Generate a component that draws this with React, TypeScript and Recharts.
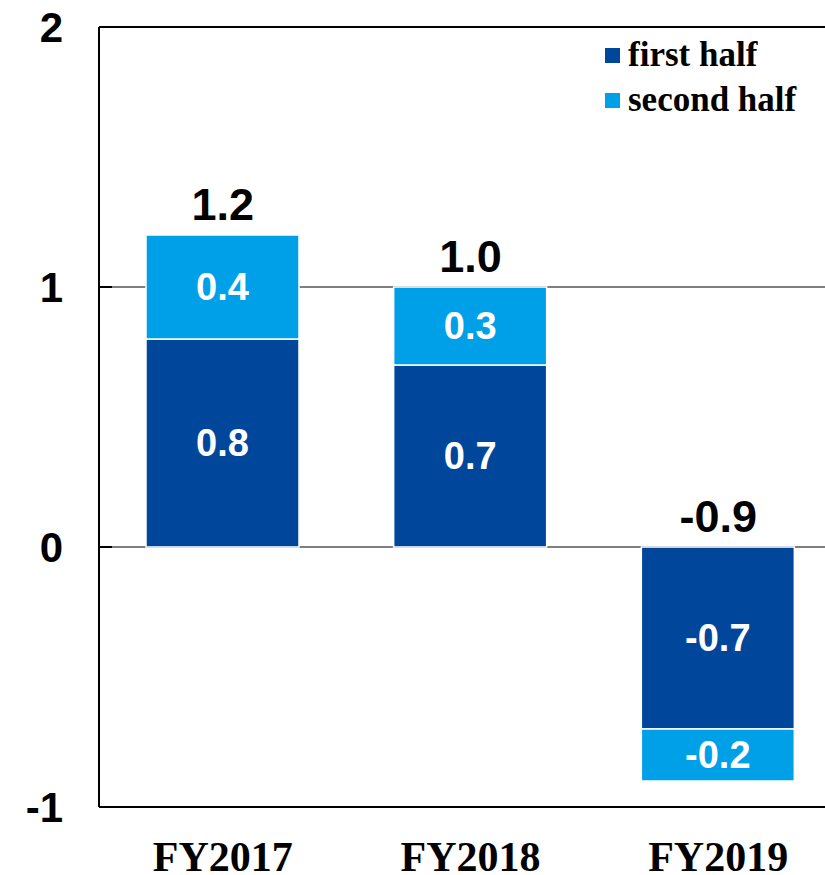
import React from 'react';
import {
  ComposedChart,
  Bar,
  Line,
  XAxis,
  YAxis,
  CartesianGrid,
  ReferenceLine,
  LabelList,
  Legend,
} from 'recharts';

const categories = ['FY2017', 'FY2018', 'FY2019'];
const firstHalf = [0.8, 0.7, -0.7];
const secondHalf = [0.4, 0.3, -0.2];
const totals = [1.2, 1.0, -0.9];
const yTicks = [-1, 0, 1, 2];
const seriesNames = ['first half', 'second half'];

const DARK = '#00479B';
const LIGHT = '#00A0E8';
const SANS = '"Liberation Sans", Arial, sans-serif';
const SERIF = '"Liberation Serif", "Times New Roman", serif';

const data = categories.map((c, i) => ({
  name: c,
  first: firstHalf[i],
  second: secondHalf[i],
  total: totals[i],
  anchor: Math.max(totals[i], 0),
}));

const fmt = (v: any) => Number(v).toFixed(1);

const YTick = (props: any) => {
  const { x, y, payload } = props;
  return (
    <g>
      <line x1={x} x2={x + 13} y1={y} y2={y} stroke="#000" strokeWidth={2} />
      <text
        x={x - 36}
        y={y}
        textAnchor="end"
        dominantBaseline="central"
        fontFamily={SANS}
        fontWeight="bold"
        fontSize={42}
        fill="#000"
      >
        {payload.value}
      </text>
    </g>
  );
};

const XTick = (props: any) => {
  const { x, y, payload } = props;
  return (
    <text
      x={x}
      y={y + 64}
      textAnchor="middle"
      fontFamily={SERIF}
      fontWeight="bold"
      fontSize={42}
      fill="#000"
    >
      {payload.value}
    </text>
  );
};

const LegendContent = () => {
  const colors = [DARK, LIGHT];
  return (
    <div style={{ position: 'relative' }}>
      {seriesNames.map((n, i) => (
        <div key={n} style={{ position: 'relative', height: 45, width: 220 }}>
          <div
            style={{
              position: 'absolute',
              left: 0,
              top: 16,
              width: 15,
              height: 15,
              background: colors[i],
            }}
          />
          <div
            style={{
              position: 'absolute',
              left: 23,
              top: 0,
              lineHeight: '45px',
              fontFamily: SERIF,
              fontWeight: 'bold',
              fontSize: 35,
              color: '#000',
              whiteSpace: 'nowrap',
            }}
          >
            {n}
          </div>
        </div>
      ))}
    </div>
  );
};

export default function App() {
  return (
    <div
      style={{
        position: 'absolute',
        left: 0,
        top: 0,
        width: 825,
        height: 875,
        overflow: 'hidden',
        background: '#fff',
      }}
    >
      <ComposedChart
        width={842}
        height={875}
        data={data}
        margin={{ top: 27, right: 0, bottom: 0, left: 0 }}
      >
        <CartesianGrid vertical={false} stroke="#555" strokeWidth={1.5} />
        <XAxis
          dataKey="name"
          height={68}
          axisLine={{ stroke: '#000', strokeWidth: 2 }}
          tickLine={false}
          tickSize={0}
          tickMargin={0}
          tick={<XTick />}
          interval={0}
        />
        <YAxis
          width={99}
          domain={[-1, 2]}
          ticks={yTicks}
          allowDataOverflow
          axisLine={{ stroke: '#000', strokeWidth: 2 }}
          tickLine={false}
          tickSize={0}
          tickMargin={0}
          tick={<YTick />}
        />
        <Legend
          layout="horizontal"
          verticalAlign="middle"
          align="center"
          content={<LegendContent />}
          wrapperStyle={{ position: 'absolute', left: 605, top: 32, width: 220, height: 90 }}
        />
        <Bar
          dataKey="first"
          name={seriesNames[0]}
          stackId="a"
          fill={DARK}
          stroke="#fff"
          strokeWidth={1.5}
          barSize={153}
          isAnimationActive={false}
        >
          <LabelList
            dataKey="first"
            position="center"
            formatter={fmt}
            fill="#fff"
            fontFamily={SANS}
            fontWeight="bold"
            fontSize={38}
          />
        </Bar>
        <Bar
          dataKey="second"
          name={seriesNames[1]}
          stackId="a"
          fill={LIGHT}
          stroke="#fff"
          strokeWidth={1.5}
          barSize={153}
          isAnimationActive={false}
        >
          <LabelList
            dataKey="second"
            position="center"
            formatter={fmt}
            fill="#fff"
            fontFamily={SANS}
            fontWeight="bold"
            fontSize={38}
          />
        </Bar>
        <Line
          dataKey="anchor"
          stroke="none"
          dot={false}
          activeDot={false}
          legendType="none"
          isAnimationActive={false}
        >
          <LabelList
            dataKey="total"
            position="top"
            offset={15}
            formatter={fmt}
            fill="#000"
            fontFamily={SANS}
            fontWeight="bold"
            fontSize={45}
          />
        </Line>
        <ReferenceLine y={2} stroke="#000" strokeWidth={2} />
      </ComposedChart>
    </div>
  );
}
